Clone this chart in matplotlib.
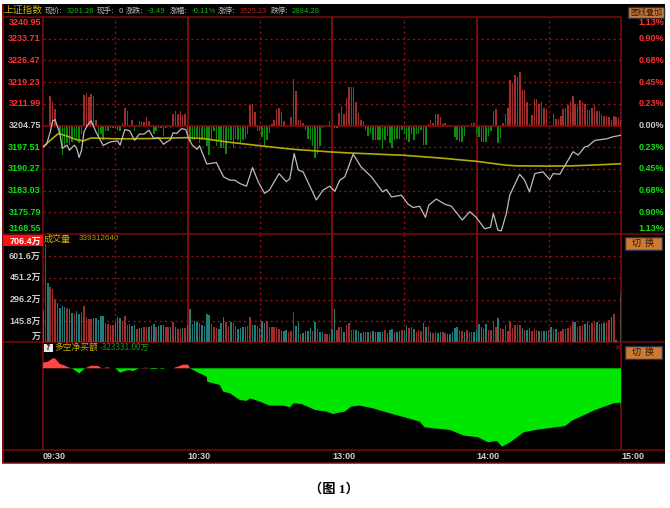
import numpy as np
import matplotlib
matplotlib.use("Agg")
import matplotlib.pyplot as plt
from matplotlib.patches import Rectangle
from matplotlib.transforms import blended_transform_factory as btf

plt.rcParams['font.family'] = ['Noto Sans CJK SC', 'DejaVu Sans']

# ---------- data ----------
price_minutes = [0,1.5,3,4,5,7,8,10,11,13,14,15,16,17,18.5,20,22,25,28,31,32,34,36,38,40,42,44,46,48,50,53,54,55.5,57.5,59.3,
    60.5,62,64,65,68,72,75,77.6,79.7,81.7,84.5,87,89.4,92,94,98,101,102.5,104.3,106,108,113.5,116.3,119,121.2,123.2,125.3,128.8,
    132,136.4,141,142.6,144.7,148.8,151.6,153.7,156.4,158.8,160.2,163.3,166.8,169.6,174.1,177.2,179.9,183.4,185.8,187,188.9,190.3,
    192.4,193.8,197.9,200,202,204.2,207.6,210.4,211.8,214.6,220.1,222.2,225,226.3,229.2,234,236.7,240]
price_values = [3197.6,3198.5,3202.6,3206.3,3206.7,3202.1,3197.1,3198.2,3196.5,3198.2,3197.1,3194.1,3196.5,3202.6,3204.9,3206.3,3202.6,3198.1,3199.3,3199.6,3198.2,3203.4,3203,3199.8,3201.9,3201.9,3203.2,3200.4,3200.7,3198.5,3200.1,3202.3,3202.1,3203.7,3203.4,
    3200.4,3198.2,3196.8,3198,3191.9,3192.4,3187.6,3186.5,3186.5,3185.4,3184.5,3190.7,3185.9,3182.1,3183.2,3188.7,3186,3187,3195.4,3189.9,3189.3,3179.9,3183.2,3184.5,3182.8,3186.5,3187.6,3195.2,
    3191,3187.6,3182.6,3183.4,3180.9,3181.5,3178.5,3177.4,3177.8,3174.1,3178.2,3180.2,3178.5,3177.8,3173.2,3176,3174.1,3170.3,3170.8,3175.4,3169.8,3169.6,
    3175.4,3181.5,3188.5,3186.5,3182.6,3188.7,3189.3,3186.7,3188.7,3188.5,3196,3194.9,3197.6,3197.9,3199.8,3200.3,3201,3201.5]

avg_minutes = [0,3,6.4,10,14,16.7,20,30.6,44,60,66.5,76,90,104,120,127,150,165,180,192.4,196.5,210,220,230,240]
avg_values = [3197.6,3199.8,3202.1,3201.2,3200,3199.6,3200.6,3200.3,3200.4,3200.7,3200.4,3199.3,3198,3196.8,3195.9,3195.6,3194.8,3193.9,3192.8,3191.5,3191.3,3191.2,3191.3,3191.6,3192]

net_h1 = [0,0,0,10,7.8,5.5,-1,-3,-10,-7, -6,-6.5,-5.5,-4,-4.5,-6,-3,10.3,11,9.5, 10.5,10,2,-4,-3,-5,-2,-2,-1,-1,
    -1,-1.5,-2,1,6,5,0,2,-2,0, 1.5,1.2,1.3,3,1.5,-0.5,-3,-2,-1,-1, -3.5,-1,-0.5,-1,4,5,4,5,3.5,4]
net_h2 = [-3.5,-5.5,-5,-5,-4,-6,-5,-4.5,-7,-10, -5,-2,-7,-5,-7.5,-7.5,-9.5,-5,-5,-7.5, -4.5,-5,-6,-5,-4.5,-3,6.7,7.3,4.5,-2,
    -2,-4,-7,-5,-2.5,0.5,2,5.5,5.7,4.5, 1.5,0,0,2.7,15.6,11.5,2,2,1,-1.5, -4.5,-5,-7,-11,-9.5,-7,-1,-0.5,0,1.5]
net_h3 = [0,-1,-1,4.3,6.5,4,9.3,12.7,12.7,12.9, 7.9,4.3,1.7,1.5,-1.5,-3.5,-3,-5,-5,-5, -5,-8,-5,-3.5,-6,-7.5,-5,-4.5,-4.5,-1.5,
    -3,-5,-5.5,-3,-5,-3,-3,-1.5,-6.5,-6.5, 0.5,2,1,4,4,3,0.5,0.7,0,0, 0,-4,-5,-5.5,-5.5,-3.5,0,0,0.7,0.7]
net_h4 = [-3,-4,-5.5,-5.5,-5.5,-3.5,-2,4.7,5.5,-5.7, -4.2,1,3.9,6,15.3,14.2,17,16.3,18,12, 11.7,8,0.5,3.5,8.9,9,7.2,7.8,6,5.5,
    0,0,3.9,2.3,2.3,3.3,5.5,5.7,6.7,8, 10,7.2,6.4,8.5,8,7.2,5.3,5.3,6,6.7, 4.8,5,3.9,3.1,3.3,3,2,3.3,2.8,2.5, 2]

vol_h1 = [224,685,415,382,368,298,270,235,252,242, 235,228,200,196,214,196,210,252,172,158, 158,165,168,154,182,182,130,126,119,119,
    135,172,165,147,182,119,123,107,116,91, 95,95,102,105,105,112,126,102,107,114, 114,105,100,100,135,100,88,88,95,98]
vol_h2 = [119,231,126,147,137,130,116,112,196,186, 121,100,96,91,130,172,135,107,140,130, 107,89,98,103,100,112,177,119,119,112,
    96,142,130,149,100,100,103,103,89,77, 77,79,68,77,210,112,137,56,61,72, 77,98,72,140,91,70,68,54,56,56]
vol_h3 = [91,228,79,103,105,70,114,128,84,89, 84,75,63,68,70,70,65,75,65,68, 70,70,79,58,82,89,70,70,72,84,
    77,110,93,100,89,70,84,72,133,103, 112,70,61,70,63,68,65,58,56,56, 65,98,105,82,77,70,84,65,65,65]
vol_h4 = [79,126,103,89,126,79,79,135,100,168, 98,91,114,72,142,96,114,114,114,96, 79,79,98,75,89,79,75,75,75,75,
    79,103,91,86,70,77,89,91,93,112, 140,135,103,112,114,123,135,114,130,142, 140,126,126,128,137,156,175,196,14,0, 340]
vol_colors = ("trtrrrtttt" "rttrttrrrr" "rtttttrrrr" "tttrrrtttr" "ttrrtttrtt" "trrtrtrrtr"
              "tttttrtttt" "rrrtttrrtr" "rttttrrttr" "tttrrrrrrt" "ttrrrttrtt" "ttrtrttrrr"
              "ttrrrtrrrr" "ttttttrttt" "ttrtttrttr" "ttrrtrrrtt" "rtrrttrrtt" "tttrrtrrrt"
              "tttttrrrrt" "rrrrrrrrrt" "rttrrrtrtt" "rtrtrrrrrr" "rtrrrttrrr" "ttttrrtrtt" "g")

flow_minutes = [0,0.01,2,4,5,7,8.5,10.5,12,14,15,16.7,17.5,18.4,20,23,24.3,27,28,30,32,35.4,37.5,40,43,44,45,47,48,49.5,51,54,55.5,58.2,60.3,61,
    65,68,68.2,73.4,74.8,77.6,81.7,84.5,86,90,94,99.7,102.5,104,107.3,113,117.7,120.5,123,125.3,128,131.5,137,144,151.6,156.4,158.5,169,
    174.7,180.7,184.8,188.5,190.6,194,199.6,204.5,216.9,219.7,229.3,236.9,239.7,240]
flow_values = [0,49500,58000,87000,87000,38000,29000,9000,0,-29000,-44000,-15000,0,9000,23000,20000,0,9000,0,0,-38000,-15000,-23000,0,6000,0,-6000,-6000,0,-6000,0,0,12000,32000,32000,0,
    -44000,-73000,-117000,-146000,-204000,-218000,-277000,-285000,-262000,-291000,-326000,-326000,-341000,-306000,-312000,-364000,-379000,-399000,-387000,-379000,-335000,-326000,-350000,-393000,-437000,-466000,-516000,-539000,
    -588000,-603000,-647000,-635000,-685000,-647000,-559000,-539000,-504000,-457000,-364000,-306000,-300000,-326000]

price_ticks = ["3240.95","3233.71","3226.47","3219.23","3211.99","3204.75","3197.51","3190.27","3183.03","3175.79","3168.55"]
pct_ticks = ["1.13%","0.90%","0.68%","0.45%","0.23%","0.00%","0.23%","0.45%","0.68%","0.90%","1.13%"]
vol_ticks = [706.4,601.6,451.2,296.2,145.8,0]
time_ticks = [0,60,120,180,240]
time_labels = ["09:30","10:30","13:00","14:00","15:00"]
header = [("现价:",45,"#b8b8b8"),("3201.26",67,"#14b414"),("现手:",97,"#b8b8b8"),("0",119,"#b8b8b8"),
          ("涨跌:",126,"#b8b8b8"),("-3.49",148,"#14b414"),("涨幅:",170,"#b8b8b8"),("-0.11%",192,"#14b414"),
          ("涨停:",218,"#b8b8b8"),("3525.23",240,"#b02020"),("跌停:",271,"#b8b8b8"),("2884.28",292,"#14b414")]

# ---------- layout ----------
W, H = 670, 508
fig = plt.figure(figsize=(W/100, H/100), dpi=100, facecolor="white")
def panel(x0, y0, x1, y1):
    a = fig.add_axes([x0/W, 1-y1/H, (x1-x0)/W, (y1-y0)/H])
    a.set_axis_off()
    a.patch.set_alpha(0)
    return a

page = panel(0, 0, W, H)
page.set_xlim(0, W); page.set_ylim(H, 0)
page.add_patch(Rectangle((2, 4), 663, 459, fc="black", ec="none", zorder=0))

LINE = "#7d0a0a"; GRID = "#8e1010"; DOT = (0, (1.6, 2.2))
TF = dict(fontweight="bold", fontsize=6.5, va="center")
NUM = ["Liberation Sans", "Noto Sans CJK SC"]

top = panel(43, 17, 621, 234)
mid = panel(43, 234, 621, 341.7)
bot = panel(43, 342, 621, 450)
for a in (top, mid, bot):
    a.set_xlim(0, 240)

# top panel
base = 3204.75
top.set_ylim(3168.55, 3240.95)
levels = [float(t) for t in price_ticks]
top.hlines(levels[1:-1], 0, 240, color=GRID, lw=1, ls=DOT, zorder=1)
top.hlines(base, 0, 240, color=LINE, lw=1.2, zorder=4)
net = np.array(net_h1 + net_h2 + net_h3 + net_h4, dtype=float)
mins = np.arange(len(net))
top.bar(mins, net, bottom=base, width=0.62,
        color=np.where(net > 0, "#a02c2c", "#0c8c0c"), lw=0, zorder=2)
top.plot(avg_minutes, avg_values, color="#b4ac00", lw=1.2, zorder=5)
top.plot(price_minutes, price_values, color="#bcbcbc", lw=0.9, zorder=6)

# volume panel
vol = np.array(vol_h1 + vol_h2 + vol_h3 + vol_h4, dtype=float)
mid.set_ylim(0, 757)
mid.hlines(vol_ticks[1:-1], 0, 240, color=GRID, lw=1, ls=DOT, zorder=1)
cmap = {"t": "#217c7a", "r": "#a02c2c", "g": "#5a3c3c"}
mid.bar(np.arange(len(vol)), vol, width=0.62, color=[cmap[c] for c in vol_colors], lw=0, zorder=2)

# vertical grid
for a, lo, hi in ((top, *top.get_ylim()), (mid, *mid.get_ylim())):
    a.vlines([30, 90, 150, 210], lo, hi, color=GRID, lw=1, ls=DOT, zorder=1)
    a.vlines([60, 120, 180], lo, hi, color=LINE, lw=1.5, zorder=1)

# net-flow panel
bot.set_ylim(-714000, 230000)
fx = np.array(flow_minutes); fy = np.array(flow_values, dtype=float)
bot.fill_between(fx, 0, fy, where=fy >= 0, color="#ff4444", lw=0, interpolate=True)
bot.fill_between(fx, 0, fy, where=fy <= 0, color="#00e600", lw=0, interpolate=True)

# frame lines
page.hlines([17, 233.5, 342, 450, 463], 2, [621, 665, 665, 665, 665], color=LINE, lw=1.1, zorder=3)
page.vlines([2.5], 4, 463, color="#a01010", lw=1.1, zorder=3)
page.vlines([43, 621], 17, 450, color=LINE, lw=1.2, zorder=3)

# price axis labels
ttrans = btf(top.transAxes, top.transData)
n = len(price_ticks)
for i, (lab, pct, lv) in enumerate(zip(price_ticks, pct_ticks, levels)):
    col = "#ff3030" if i < 5 else ("#c8c8c8" if i == 5 else "#10e010")
    off = -5.5 if i == 0 else (5.5 if i == n-1 else 0)
    top.annotate(lab, (0, lv), xycoords=ttrans, xytext=(-1.5, off*0.72), textcoords="offset points",
                 ha="right", color=col, family=NUM, annotation_clip=False, **TF)
    top.annotate(pct, (1, lv), xycoords=ttrans, xytext=(12.9, off*0.72), textcoords="offset points",
                 ha="left", color=col, family=NUM, annotation_clip=False, **TF)

# volume axis labels
mtrans = btf(mid.transAxes, mid.transData)
page.add_patch(Rectangle((3, 235), 40, 11, fc="#ff1010", ec="none", zorder=4))
for v in vol_ticks:
    lab = f"{v}万" if v else "万"
    off = 0.0 if v else 3.5
    mid.annotate(lab, (0, v), xycoords=mtrans, xytext=(-1.5, off), textcoords="offset points",
                 ha="right", color="white" if v == vol_ticks[0] else "#c8c8c8",
                 family=NUM, annotation_clip=False, zorder=6, **TF)

# time labels
for t, lab in zip(time_ticks, time_labels):
    bot.annotate(lab, (t, 0), xycoords=btf(bot.transData, bot.transAxes), xytext=(0, -4.6),
                 textcoords="offset points", ha="left", color="#d0d0d0", family=NUM,
                 annotation_clip=False, **TF)

# header and captions
page.text(3, 9.5, "上证指数", color="#c8b400", fontsize=7, va="center")
for s, x, c in header:
    page.text(x, 11, s, color=c, fontsize=5.5, va="center")
page.text(44, 239, "成交量", color="#c8b400", fontsize=6.5, va="center")
page.text(79, 239, "339312640", color="#a8a000", fontsize=5.8, va="center", family=NUM)
page.add_patch(Rectangle((43.5, 343.5), 9, 8, fc="#e8e8e8", ec="none", zorder=4))
page.text(48, 347.5, "?", color="black", fontsize=6, fontweight="bold", ha="center", va="center", zorder=5)
page.text(54, 347.5, "多空净买额", color="#c8b400", fontsize=6.3, va="center")
page.text(100, 347.5, "-323331.00万", color="#10a010", fontsize=5.8, va="center")
page.text(617, 347.5, "×", color="#a01010", fontsize=8, ha="center", va="center", family=NUM)

# buttons
for x, y, w, h, s, fs in ((628, 6.5, 36, 11.5, "图线叠加", 5.8), (625, 237, 37, 13, "切  换", 6.5), (625, 346, 37, 13, "切  换", 6.5)):
    page.add_patch(Rectangle((x, y), w, h, fc="#cf7a32", ec="#26304a", lw=1, zorder=4))
    page.text(x+w/2, y+h/2, s, color="#2a1a08", fontsize=fs, ha="center", va="center", zorder=5)

page.text(334, 489, "（图 1）", color="black", fontsize=9.5, fontweight="bold", ha="center", va="center",
          family=["Liberation Serif", "Noto Sans CJK SC"])

fig.savefig("out.png", dpi=100, facecolor="white")
